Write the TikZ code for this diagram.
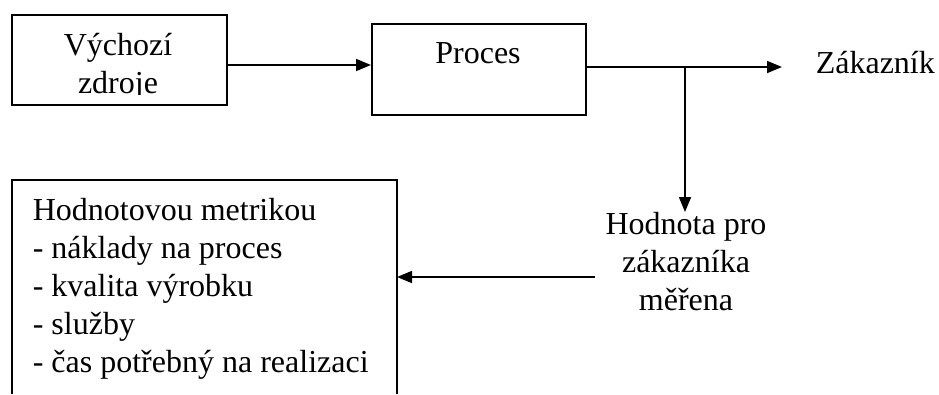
\documentclass[tikz,border=0pt]{standalone}
\usepackage{fontspec}
\setmainfont{Liberation Serif}
\usetikzlibrary{arrows.meta}
\begin{document}
\begin{tikzpicture}[x=1pt,y=-1pt,
  line width=1.6pt,
  arr/.style={-{Triangle[length=15pt,width=12pt]}},
  lbl/.style={inner sep=0pt,font=\fontsize{32}{38}\selectfont},
  boxframe/.style={draw,rectangle,inner sep=0pt,anchor=north west}]
\useasboundingbox (0,0) rectangle (939,394);

% source box, its second line cut at the baseline
\node[boxframe,minimum width=215pt,minimum height=90pt] (src) at (11,14) {};
\begin{scope}
  \clip (11,14) rectangle (226,94);
  % multi-line nodes sit on the baseline of their last line
  \node[lbl,anchor=base,align=center] (srctext) at (118,93) {Výchozí\\zdroje};
\end{scope}

% process box
\node[boxframe,minimum width=214pt,minimum height=91pt] (proc) at (371,23) {};
\node[lbl,anchor=base] (proctext) at (478,63) {Proces};

% customer
\node[lbl,anchor=base west] (cust) at (815,73) {Zákazník};
\coordinate (custin) at (782,67);
\coordinate (split) at (685,67);

% measured value
\node[lbl,anchor=base,align=center] (value) at (686,310) {Hodnota pro\\zákazníka\\měřena};
\coordinate (valuein) at (685,212);
\coordinate (valueout) at (595,277);

% metric box, open at the bottom
\coordinate (mtl) at (12,180);
\coordinate (mtr) at (397,180);
\draw (mtl |- 0,394) -- (mtl) -- (mtr) -- (mtr |- 0,394);
\node[lbl,anchor=base west,align=left] (metric) at (32,372)
  {Hodnotovou metrikou\\- náklady na proces\\- kvalita výrobku\\- služby\\- čas potřebný na realizaci};

% connectors
\draw[arr] (src.east |- 0,65) -- (proc.west |- 0,65);
\draw (proc.east |- split) -- (split);
\draw[arr] (split) -- (custin);
\draw[arr] (split) -- (valuein);
\draw[arr] (valueout) -- (mtr |- valueout);
\end{tikzpicture}
\end{document}
